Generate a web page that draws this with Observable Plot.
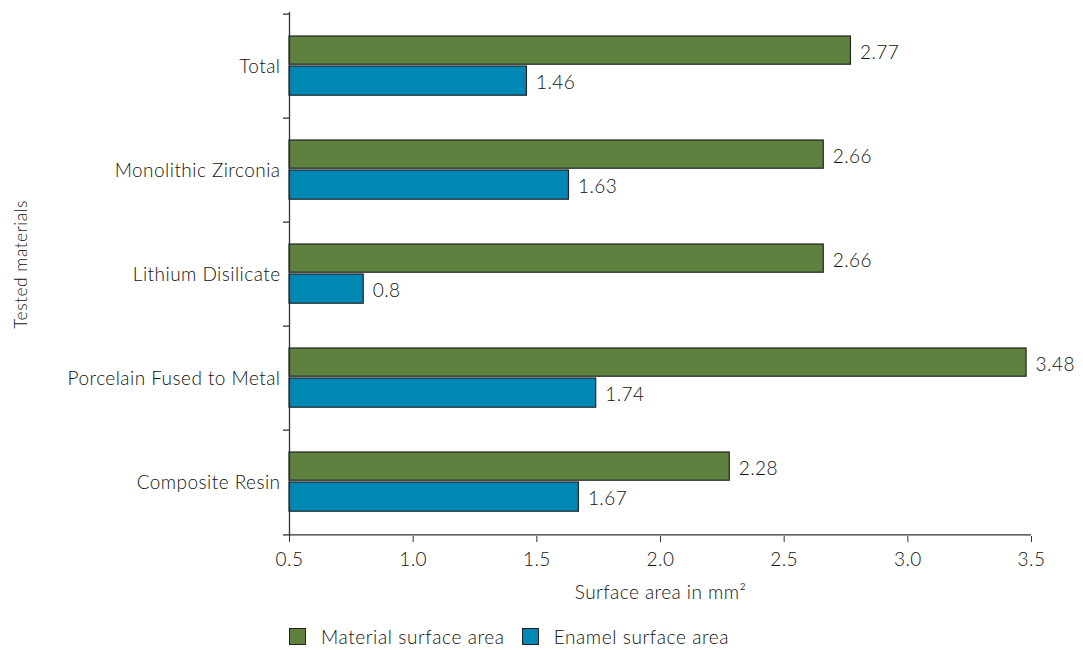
<!DOCTYPE html>
<html><head><meta charset="utf-8">
<script src="https://cdn.jsdelivr.net/npm/d3@7"></script>
<script src="https://cdn.jsdelivr.net/npm/@observablehq/plot@0.6"></script>
<style>
body{margin:0;background:#fff;font-family:Lato,"Noto Sans",sans-serif;color:#111;}
#legend{display:flex;align-items:center;margin-left:289px;margin-top:20px;font-size:19px;font-weight:300;letter-spacing:0.6px;}
#legend .item{display:flex;align-items:center;margin-right:17px;}
#legend .sw{width:15px;height:15px;border:1px solid #222;margin-right:15px;}
</style></head><body>
<div id="chart"></div>
<div id="legend"></div>
<script>
const categories = ["Total", "Monolithic Zirconia", "Lithium Disilicate", "Porcelain Fused to Metal", "Composite Resin"];
const materialValues = [2.77, 2.66, 2.66, 3.48, 2.28];
const enamelValues = [1.46, 1.63, 0.8, 1.74, 1.67];
const seriesNames = ["Material surface area", "Enamel surface area"];
const seriesColors = ["#5e8140", "#0088b5"];
const xTicks = [0.5, 1.0, 1.5, 2.0, 2.5, 3.0, 3.5];
const xDomain = [0.5, 3.5];
const xLabel = "Surface area in mm²";
const yLabel = "Tested materials";

const material = categories.map((c, i) => ({category: c, value: materialValues[i]}));
const enamel = categories.map((c, i) => ({category: c, value: enamelValues[i]}));

const W = 1083, H = 605, mT = 12, mB = 69, mL = 289, mR = 52;
const band = (H - mT - mB) / categories.length;
const xmin = xDomain[0];
const ink = "#111";

const chart = Plot.plot({
  width: W, height: H,
  marginTop: mT, marginBottom: mB, marginLeft: mL, marginRight: mR,
  style: {fontFamily: "Lato, 'Noto Sans', sans-serif", fontSize: "19px", fontWeight: 300, letterSpacing: "0.45px", color: ink, background: "#fff"},
  x: {domain: xDomain},
  y: {domain: categories, padding: 0},
  marks: [
    Plot.barX(material, {x1: xmin, x2: "value", y: "category", fill: seriesColors[0], stroke: "#222", strokeWidth: 1.2,
      insetTop: 22, insetBottom: band - 51}),
    Plot.barX(enamel, {x1: xmin, x2: "value", y: "category", fill: seriesColors[1], stroke: "#222", strokeWidth: 1.2,
      insetTop: 52, insetBottom: band - 82}),
    Plot.text(material, {x: "value", y: "category", text: d => String(d.value), textAnchor: "start", dx: 9, dy: -14, fill: ink}),
    Plot.text(enamel, {x: "value", y: "category", text: d => String(d.value), textAnchor: "start", dx: 9, dy: 16, fill: ink}),
    Plot.ruleX([xmin], {stroke: "#333", strokeWidth: 1.3}),
    Plot.ruleY(categories, {y: d => d, x1: xmin, x2: xmin, insetLeft: -6, dy: -band / 2, stroke: "#333", strokeWidth: 1.3}),
    Plot.ruleY([categories[categories.length - 1]], {y: d => d, x1: xmin, x2: xmin, insetLeft: -6, dy: band / 2, stroke: "#333", strokeWidth: 1.3}),
    Plot.axisY({tickSize: 0, tickPadding: 9, label: null, fill: ink}),
    Plot.text([yLabel], {frameAnchor: "left", textAnchor: "middle", text: d => d, rotate: -90, dx: -268, dy: -10, fontSize: 17.5, fill: ink}),
    Plot.axisX({ticks: xTicks, tickFormat: d3.format(".1f"), tickSize: 6, tickPadding: 10, stroke: "#333", fill: ink,
      label: xLabel, labelAnchor: "center", labelArrow: "none", labelOffset: 62}),
    Plot.ruleY([categories[categories.length - 1]], {y: d => d, dy: band / 2, stroke: "#333", strokeWidth: 1.3})
  ]
});
document.getElementById("chart").appendChild(chart);

const legend = d3.select("#legend");
seriesNames.forEach((name, i) => {
  const item = legend.append("div").attr("class", "item");
  item.append("div").attr("class", "sw").style("background", seriesColors[i]);
  item.append("span").text(name);
});
</script>
</body></html>
